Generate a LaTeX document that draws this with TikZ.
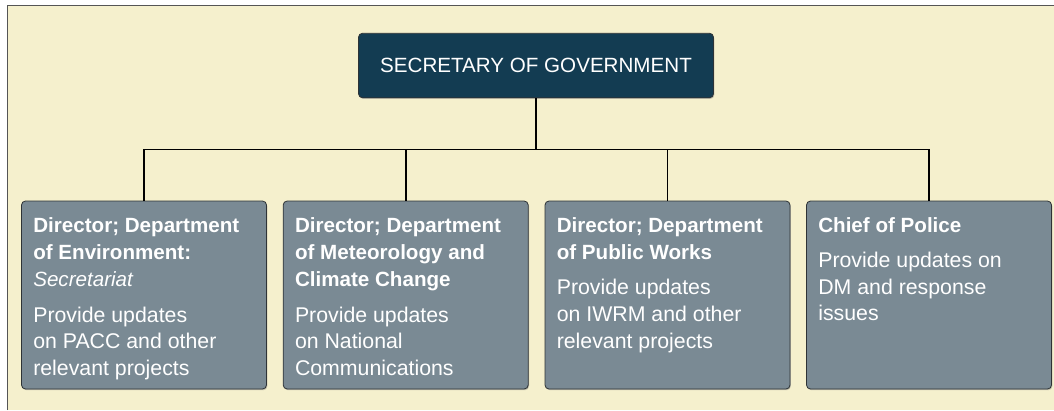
\documentclass[tikz,border=0pt]{standalone}
\usepackage{fontspec}
\setmainfont{Liberation Sans}
\usepackage{xcolor}
\usetikzlibrary{shadows}
\usetikzlibrary{positioning}
\definecolor{paperColor}{HTML}{F5F0CD}
\definecolor{frameColor}{HTML}{555555}
\definecolor{headBgColor}{HTML}{133C52}
\definecolor{boxBgColor}{HTML}{7A8A94}
\definecolor{boxLineColor}{HTML}{2E3336}
\definecolor{linkColor}{HTML}{000000}
\tikzset{
  headbox/.style={rounded corners=4bp, fill=headBgColor, draw=boxLineColor, line width=.8bp,
    minimum width=355bp, minimum height=64.5bp, inner sep=0pt, text=white,
    font=\fontsize{20.6bp}{24bp}\selectfont,
    drop shadow={shadow xshift=.8bp, shadow yshift=-1.2bp, opacity=.45}},
  rolebox/.style={rounded corners=4bp, fill=boxBgColor, draw=boxLineColor, line width=.8bp,
    minimum width=245bp, minimum height=188bp, inner sep=0pt,
    drop shadow={shadow xshift=.8bp, shadow yshift=-1.2bp, opacity=.45}},
  roletitle/.style={anchor=north west, inner sep=0pt, align=left, text=white,
    font=\bfseries\fontsize{20.6bp}{27.3bp}\selectfont},
  roledesc/.style={inner sep=0pt, align=left, text=white,
    font=\fontsize{21.3bp}{26.7bp}\selectfont},
  link/.style={color=linkColor, line width=1.6bp}
}

\begin{document}
\begin{tikzpicture}[x=1bp,y=-1bp]
\useasboundingbox (0, 0) rectangle (1054, 410);

% paper and frame
\fill[paperColor] (7.3, 5.3) rectangle (1054, 410);
\draw[frameColor, line width=1bp] (7.3, 410) -- (7.3, 5.3) -- (1054, 5.3);

% boxes
\node[headbox] (sec) at (536, 65.5) {SECRETARY OF GOVERNMENT};
\node[rolebox] (env) at (144, 295) {};
\node[rolebox] (met) at (405.7, 295) {};
\node[rolebox] (pwd) at (667.5, 295) {};
\node[rolebox] (pol) at (929, 295) {};

% box texts
\node[roletitle] (envTitle) at ([shift={(12, 12.2)}]env.north west)
  {\strut Director; Department\\ of Environment:\\ {\mdseries\itshape Secretariat}\strut};
\node[roledesc, below right=8.1bp and 0bp of envTitle.south west] (envDesc)
  {\strut Provide updates\\ on PACC and other\\ relevant projects\strut};

\node[roletitle] (metTitle) at ([shift={(12, 12.2)}]met.north west)
  {\strut Director; Department\\ of Meteorology and\\ Climate Change\strut};
\node[roledesc, below right=8.1bp and 0bp of metTitle.south west] (metDesc)
  {\strut Provide updates\\ on National\\ Communications\strut};

\node[roletitle] (pwdTitle) at ([shift={(12, 12.2)}]pwd.north west)
  {\strut Director; Department\\ of Public Works\strut};
\node[roledesc, below right=8.1bp and 0bp of pwdTitle.south west] (pwdDesc)
  {\strut Provide updates\\ on IWRM and other\\ relevant projects\strut};

\node[roletitle] (polTitle) at ([shift={(12, 12.2)}]pol.north west)
  {\strut Chief of Police\strut};
\node[roledesc, below right=8.1bp and 0bp of polTitle.south west] (polDesc)
  {\strut Provide updates on\\ DM and response\\ issues\strut};

% link layer
\coordinate (bus) at (sec.south |- 0, 149.5);
\draw[link] (sec.south) -- (bus);
\draw[link] (env.north) |- (pol.north |- bus) -- (pol.north);
\draw[link] (met.north) -- (met.north |- bus);
\draw[link] (pwd.north) -- (pwd.north |- bus);

\end{tikzpicture}
\end{document}
